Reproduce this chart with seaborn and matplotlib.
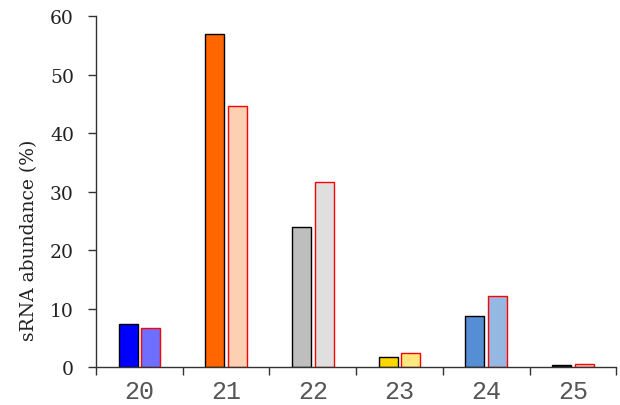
import pandas as pd
import matplotlib
matplotlib.use("Agg")
import matplotlib.pyplot as plt
import seaborn as sns

# Data
lengths = ["20", "21", "22", "23", "24", "25"]
sample_a = [7.4, 57.0, 23.9, 1.7, 8.7, 0.4]
sample_b = [6.6, 44.7, 31.7, 2.4, 12.2, 0.55]
colors_a = ["#0000FF", "#FF6600", "#BEBEBE", "#FFD700", "#558ED5", "#1A1A1A"]
colors_b = ["#6E6EFF", "#FDD0B4", "#DFDFDF", "#FFE880", "#95B8E3", "#F4C7C3"]

df = pd.DataFrame({
    "length": lengths * 2,
    "abundance": sample_a + sample_b,
    "sample": ["A"] * len(lengths) + ["B"] * len(lengths),
})

sns.set_style("white")
fig = plt.figure(figsize=(6.2, 4.06), dpi=100)
ax = fig.add_axes([0.155, 0.0936, 0.839, 0.8645])

sns.barplot(data=df, x="length", y="abundance", hue="sample",
            width=0.523, gap=0.16, legend=False, ax=ax, errorbar=None)

# recolour bars: first hue level -> black edge, second -> red edge
bars = [p for p in ax.patches if p.get_height() > 0]
for i, p in enumerate(bars):
    k = i % len(lengths)
    if i < len(lengths):
        p.set_facecolor(colors_a[k])
        p.set_edgecolor("black")
    else:
        p.set_facecolor(colors_b[k])
        p.set_edgecolor("#FF0000")
    p.set_linewidth(1.0)

ax.set_xlim(-0.5, 5.5)
ax.set_ylim(0, 60)
ax.set_yticks(range(0, 61, 10))
ax.set_xticks(range(len(lengths)))
ax.set_xticklabels(lengths, family="Liberation Mono", fontsize=18, color="#555555")
ax.set_xticks([i - 0.5 for i in range(len(lengths) + 1)], minor=True)
ax.tick_params(axis="x", which="major", bottom=False, length=0, pad=9)
ax.tick_params(axis="x", which="minor", bottom=True, direction="out", length=6, width=1, color="#333333")
ax.tick_params(axis="y", left=True, direction="out", length=6, width=1, color="#333333",
               labelsize=13.5, labelcolor="#222222", pad=10)
for lab in ax.get_yticklabels():
    lab.set_family("DejaVu Serif")

ax.set_xlabel("")
ax.set_ylabel("sRNA abundance (%)", family="DejaVu Serif", fontsize=13.5, color="#222222")
ax.yaxis.set_label_coords(-0.112, 0.365)

for s in ["top", "right"]:
    ax.spines[s].set_visible(False)
for s in ["left", "bottom"]:
    ax.spines[s].set_color("#333333")
    ax.spines[s].set_linewidth(1.0)

fig.savefig("out.png", dpi=100)
